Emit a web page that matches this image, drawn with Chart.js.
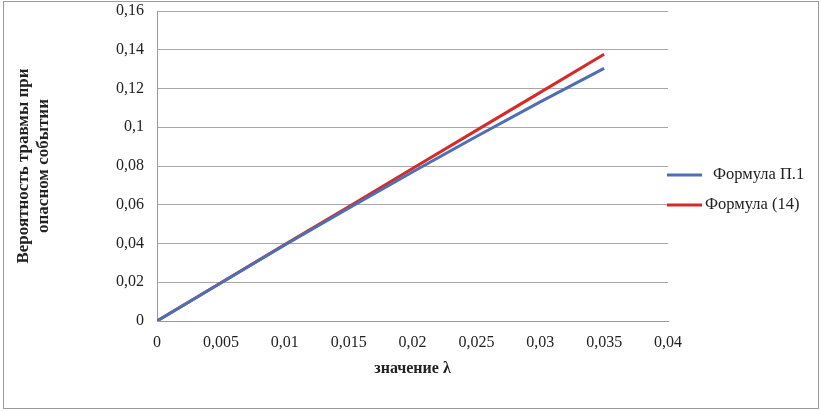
<!DOCTYPE html>
<html>
<head>
<meta charset="utf-8">
<script src="https://cdn.jsdelivr.net/npm/chart.js@4"></script>
<style>
  body { margin: 0; background: #fff; }
  #wrap { position: absolute; left: 0; top: 0; width: 821px; height: 411px; }
</style>
</head>
<body>
<div id="wrap"><canvas id="chart" width="821" height="411"></canvas></div>
<script>
// values
const lambdaValues = [0, 0.005, 0.01, 0.015, 0.02, 0.025, 0.03, 0.035];
const formulaP1 = [0, 0.0196, 0.0392, 0.0582, 0.0769, 0.0952, 0.1131, 0.1304];
const formula14 = [0, 0.0197, 0.0394, 0.0590, 0.0787, 0.0984, 0.1180, 0.1377];
const seriesNames = ["Формула П.1", "Формула (14)"];
const seriesColors = ["#4f6fb3", "#d42a2a"];

const serif = "'Liberation Serif', 'Times New Roman', serif";

function toPoints(ys) {
  return lambdaValues.map((x, i) => ({ x: x, y: ys[i] }));
}

// frame around the whole picture + hand-placed legend
const framePlugin = {
  id: "frame",
  afterDraw(chart) {
    const ctx = chart.ctx;
    ctx.save();
    ctx.strokeStyle = "#9a9a9a";
    ctx.lineWidth = 1;
    ctx.strokeRect(3.5, 1.5, 815, 407);

    const rows = [175, 205];
    ctx.font = "16.5px " + serif;
    ctx.textBaseline = "middle";
    chart.data.datasets.forEach((ds, i) => {
      ctx.strokeStyle = ds.borderColor;
      ctx.lineWidth = 3;
      ctx.beginPath();
      ctx.moveTo(667, rows[i]);
      ctx.lineTo(702, rows[i]);
      ctx.stroke();
      ctx.fillStyle = "#222";
      ctx.fillText(ds.label, i === 0 ? 713 : 705, rows[i]);
    });
    ctx.restore();
  }
};

new Chart(document.getElementById("chart"), {
  type: "line",
  data: {
    datasets: [
      {
        label: seriesNames[0],
        data: toPoints(formulaP1),
        borderColor: seriesColors[0],
        backgroundColor: seriesColors[0],
        borderWidth: 3,
        pointRadius: 0,
        tension: 0
      },
      {
        label: seriesNames[1],
        data: toPoints(formula14),
        borderColor: seriesColors[1],
        backgroundColor: seriesColors[1],
        borderWidth: 3,
        pointRadius: 0,
        tension: 0
      }
    ]
  },
  options: {
    responsive: false,
    animation: false,
    layout: { padding: { left: 0, top: 11, right: 153, bottom: 0 } },
    plugins: {
      legend: { display: false },
      tooltip: { enabled: false }
    },
    scales: {
      x: {
        type: "linear",
        min: 0,
        max: 0.04,
        afterFit: s => { s.height = 90; },
        grid: { display: false, drawTicks: false },
        border: { color: "#9a9a9a" },
        ticks: {
          stepSize: 0.005,
          padding: 12,
          color: "#222",
          font: { family: serif, size: 16 },
          callback: v => String(+v.toFixed(3)).replace(".", ",")
        },
        title: {
          display: true,
          text: "значение λ",
          color: "#222",
          font: { family: serif, size: 16, weight: "bold" },
          padding: { bottom: 33 }
        }
      },
      y: {
        min: 0,
        max: 0.16,
        afterFit: s => { s.width = 157; s.paddingTop = 0; s.paddingBottom = 0; },
        grid: { color: "#a8a8a8", drawTicks: false },
        border: { color: "#9a9a9a" },
        ticks: {
          stepSize: 0.02,
          padding: 13,
          color: "#222",
          font: { family: serif, size: 16 },
          callback: v => String(+v.toFixed(2)).replace(".", ",")
        },
        title: {
          display: true,
          text: ["Вероятность травмы при", "опасном событии"],
          color: "#222",
          font: { family: serif, size: 17, weight: "bold" },
          padding: { top: 13 }
        }
      }
    }
  },
  plugins: [framePlugin]
});
</script>
</body>
</html>
